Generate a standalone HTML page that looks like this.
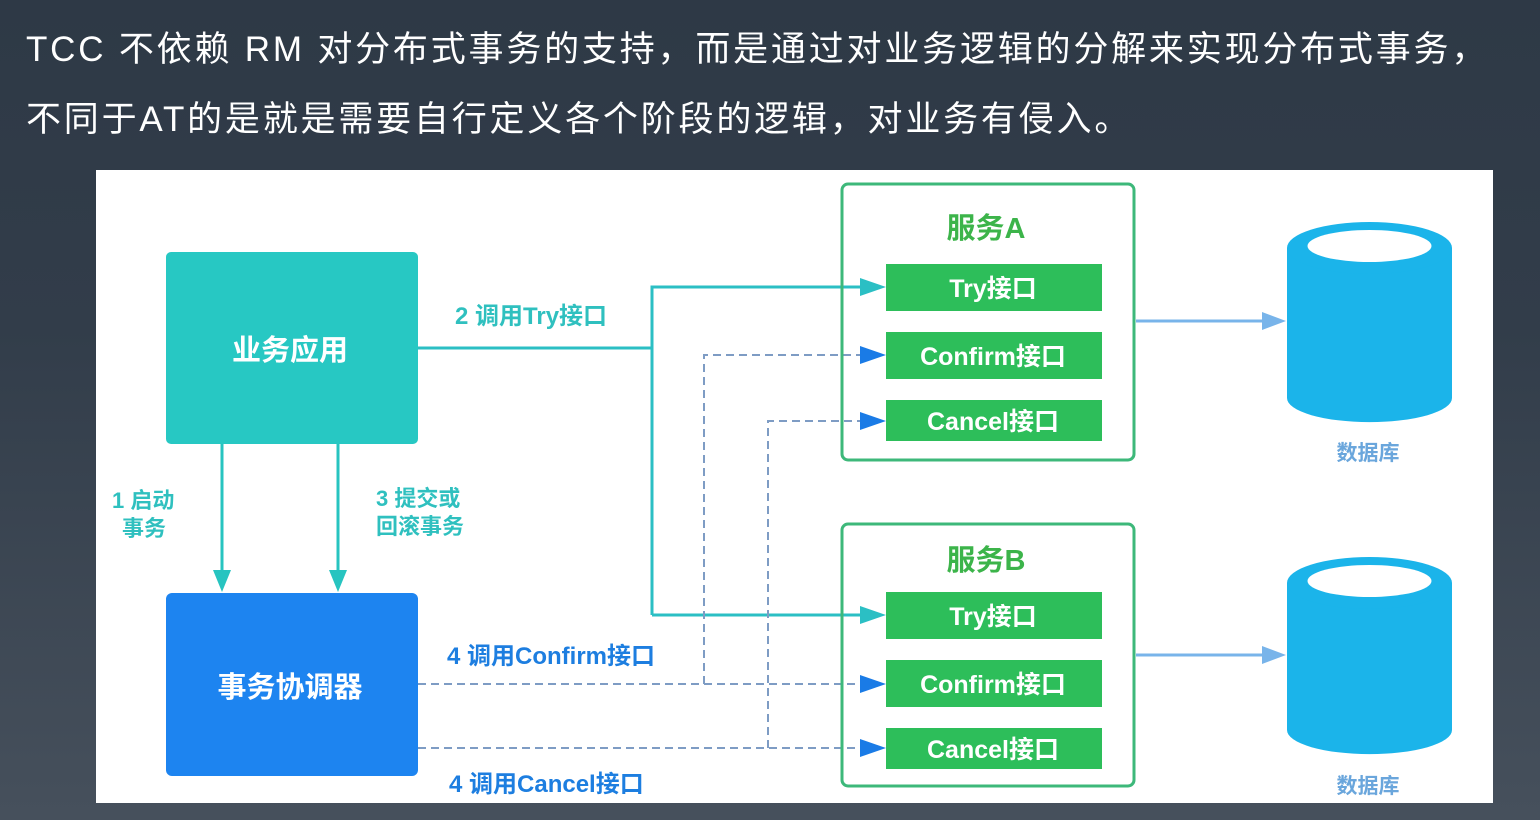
<!DOCTYPE html>
<html><head><meta charset="utf-8"><style>
html,body{margin:0;padding:0;}
body{width:1540px;height:820px;overflow:hidden;background:linear-gradient(#2e3946 0%,#323d4a 40%,#46505c 100%);position:relative;font-family:"Liberation Sans","Noto Sans CJK SC",sans-serif;}
.t{position:absolute;left:26px;color:#fff;font-size:35px;white-space:nowrap;letter-spacing:2.8px;}
svg{position:absolute;left:0;top:0;}
svg text{font-family:"Liberation Sans","Noto Sans CJK SC",sans-serif;font-weight:bold;}
</style></head><body>
<div class="t" style="top:21px">TCC 不依赖 RM 对分布式事务的支持，而是通过对业务逻辑的分解来实现分布式事务，</div>
<div class="t" style="top:91px">不同于AT的是就是需要自行定义各个阶段的逻辑，对业务有侵入。</div>
<svg width="1540" height="820" viewBox="0 0 1540 820">
<rect x="96" y="170" width="1397" height="633" fill="#fff"/>
<rect x="166" y="252" width="252" height="192" rx="5" fill="#27c8c3"/>
<text x="290" y="360" fill="#fff" font-size="29" text-anchor="middle">业务应用</text>
<rect x="166" y="593" width="252" height="183" rx="6" fill="#1d84f0"/>
<text x="290" y="697" fill="#fff" font-size="29" text-anchor="middle">事务协调器</text>
<line x1="222" y1="444" x2="222" y2="575" stroke="#27c4c0" stroke-width="3"/>
<path d="M213,570L231,570L222,592z" fill="#27c4c0"/>
<line x1="338" y1="444" x2="338" y2="575" stroke="#27c4c0" stroke-width="3"/>
<path d="M329,570L347,570L338,592z" fill="#27c4c0"/>
<text x="112" y="508" fill="#2fc0bf" font-size="22">1 启动</text>
<text x="122" y="536" fill="#2fc0bf" font-size="22">事务</text>
<text x="376" y="506" fill="#2fc0bf" font-size="22">3 提交或</text>
<text x="376" y="534" fill="#2fc0bf" font-size="22">回滚事务</text>
<polyline points="418,348 652,348" fill="none" stroke="#2bbfc4" stroke-width="3"/>
<polyline points="652,615 652,287 862,287" fill="none" stroke="#2bbfc4" stroke-width="3"/>
<line x1="652" y1="615" x2="862" y2="615" stroke="#2bbfc4" stroke-width="3"/>
<path d="M860,278L886,287L860,296z" fill="#2bbfc4"/>
<path d="M860,606L886,615L860,624z" fill="#2bbfc4"/>
<text x="455" y="324" fill="#2fc0bf" font-size="24">2 调用Try接口</text>
<g fill="none" stroke="#7e9cc4" stroke-width="2" stroke-dasharray="8,5">
<polyline points="418,684 862,684"/>
<polyline points="704,684 704,355 862,355"/>
<polyline points="418,748 862,748"/>
<polyline points="768,748 768,421 862,421"/>
</g>
<g fill="#1a7be6">
<path d="M860,346L886,355L860,364z"/>
<path d="M860,412L886,421L860,430z"/>
<path d="M860,675L886,684L860,693z"/>
<path d="M860,739L886,748L860,757z"/>
</g>
<text x="447" y="664" fill="#1d7ee0" font-size="24">4 调用Confirm接口</text>
<text x="449" y="792" fill="#1d7ee0" font-size="24">4 调用Cancel接口</text>
<rect x="842" y="184" width="292" height="276" rx="6" fill="none" stroke="#3db87a" stroke-width="3"/>
<rect x="842" y="524" width="292" height="262" rx="6" fill="none" stroke="#3db87a" stroke-width="3"/>
<text x="986" y="238" fill="#3cb44a" font-size="29" text-anchor="middle">服务A</text>
<text x="986" y="570" fill="#3cb44a" font-size="29" text-anchor="middle">服务B</text>
<g fill="#2dbe5a">
<rect x="886" y="264" width="216" height="47"/>
<rect x="886" y="332" width="216" height="47"/>
<rect x="886" y="400" width="216" height="41"/>
<rect x="886" y="592" width="216" height="47"/>
<rect x="886" y="660" width="216" height="47"/>
<rect x="886" y="728" width="216" height="41"/>
</g>
<g fill="#fff" font-size="25" text-anchor="middle">
<text x="993" y="297">Try接口</text>
<text x="993" y="365">Confirm接口</text>
<text x="993" y="430">Cancel接口</text>
<text x="993" y="625">Try接口</text>
<text x="993" y="693">Confirm接口</text>
<text x="993" y="758">Cancel接口</text>
</g>
<line x1="1136" y1="321" x2="1265" y2="321" stroke="#78b4ea" stroke-width="3"/>
<path d="M1262,312L1286,321L1262,330z" fill="#78b4ea"/>
<line x1="1136" y1="655" x2="1265" y2="655" stroke="#78b4ea" stroke-width="3"/>
<path d="M1262,646L1286,655L1262,664z" fill="#78b4ea"/>
<g>
<path d="M1287,248 L1287,398 A82,24 0 0 0 1452,398 L1452,248z" fill="#1bb4ea"/>
<ellipse cx="1369.5" cy="248" rx="82.5" ry="26" fill="#1bb4ea"/>
<ellipse cx="1369.5" cy="246" rx="62" ry="16" fill="#fff"/>
<path d="M1287,583 L1287,730 A82,24 0 0 0 1452,730 L1452,583z" fill="#1bb4ea"/>
<ellipse cx="1369.5" cy="583" rx="82.5" ry="26" fill="#1bb4ea"/>
<ellipse cx="1369.5" cy="581" rx="62" ry="16" fill="#fff"/>
</g>
<text x="1368" y="460" fill="#6aa6dc" font-size="21" text-anchor="middle">数据库</text>
<text x="1368" y="793" fill="#6aa6dc" font-size="21" text-anchor="middle">数据库</text>
</svg>
</body></html>
